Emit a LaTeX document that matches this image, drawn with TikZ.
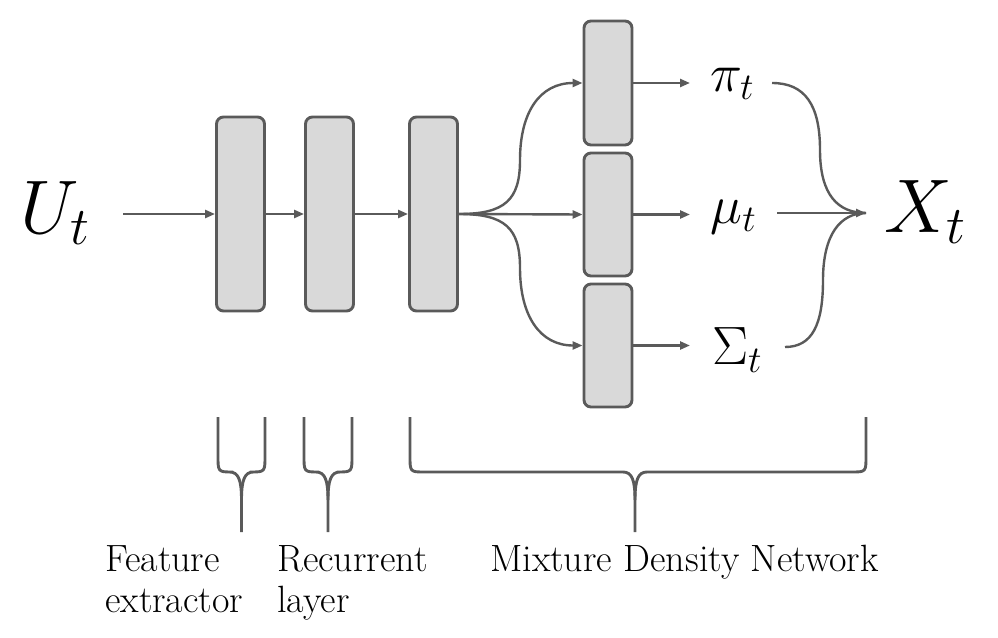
\RequirePackage{fix-cm}
\documentclass[tikz,border=0pt]{standalone}
\usetikzlibrary{arrows.meta}
\DeclareMathSizes{54}{54}{37.8}{27}
\DeclareMathSizes{76}{76}{53.2}{38}
\definecolor{edge}{HTML}{5A5A5A}
\definecolor{boxfill}{HTML}{D9D9D9}
\newcommand\mybrace[3]{%
  \draw[brace] (#1,417) -- (#1,456) .. controls (#1,472) .. ({#1+15},472) -- ({#3-12},472)
     .. controls ({#3-3},472) and (#3,480) .. (#3,500) -- (#3,532);
  \draw[brace] (#2,417) -- (#2,456) .. controls (#2,472) .. ({#2-15},472) -- ({#3+12},472)
     .. controls ({#3+3},472) and (#3,480) .. (#3,500);}
\begin{document}
\begin{tikzpicture}[x=1pt,y=-1pt,
  box/.style={draw=edge, fill=boxfill, line width=2.9pt, rounded corners=7pt, minimum width=48pt, inner sep=0pt},
  arr/.style={draw=edge, line width=2.4pt, -{Triangle[length=10pt,width=8pt]}},
  con/.style={draw=edge, line width=2.4pt},
  brace/.style={draw=edge, line width=2.9pt, line join=round},
  lab/.style={font=\fontsize{38}{41}\selectfont, align=left, inner sep=0pt},
  big/.style={font=\fontsize{76}{80}\selectfont, inner sep=0pt},
  mid/.style={font=\fontsize{54}{58}\selectfont, inner sep=0pt}]
\useasboundingbox (0,0) rectangle (998,637);

% boxes
\node[box, minimum height=194pt] (b1) at (240.5,214) {};
\node[box, minimum height=194pt] (b2) at (329.5,214) {};
\node[box, minimum height=194pt] (b3) at (433.5,214) {};
\node[box, minimum height=124pt] (m1) at (608,83) {};
\node[box, minimum height=123pt] (m2) at (608,214.5) {};
\node[box, minimum height=123pt] (m3) at (608,345.5) {};

% math labels
\node[big, anchor=base] (U) at (55,233) {$U_t$};
\node[big, anchor=base] (X) at (925,232) {$X_t$};
\node[mid, anchor=base] (pi) at (732,91) {$\pi_t$};
\node[mid, anchor=base] (mu) at (733.5,223) {$\mu_t$};
\node[mid, anchor=base] (sig) at (737,364) {$\Sigma_t$};

% connector end points
\coordinate (uin) at (123,214);
\coordinate (xin) at (866,213);
\coordinate (p1) at (690,83);
\coordinate (p2) at (690,214.5);
\coordinate (p3) at (690,345.5);
\coordinate (p1o) at (772,83);
\coordinate (p2o) at (777,213);
\coordinate (p3o) at (785,347);

% main chain
\draw[arr] (uin) -- (b1.west);
\draw[arr] (b1.east) -- (b2.west);
\draw[arr] (b2.east) -- (b3.west);

% fan out
\draw[arr] (b3.east) .. controls (505,214) and (520,200) .. (520,160)
   .. controls (520,112) and (540,83) .. (m1.west);
\draw[arr] (b3.east) -- (m2.west);
\draw[arr] (b3.east) .. controls (505,214) and (520,228) .. (520,268)
   .. controls (520,316) and (540,345.5) .. (m3.west);

% to labels
\draw[arr] (m1.east) -- (p1);
\draw[arr] (m2.east) -- (p2);
\draw[arr] (m3.east) -- (p3);

% fan in
\draw[con] (p1o) .. controls (805,83) and (820,105) .. (820,150)
   .. controls (820,195) and (838,213) .. (xin);
\draw[arr] (p2o) -- (xin);
\draw[con] (p3o) .. controls (812,347) and (823,325) .. (823,280)
   .. controls (823,235) and (840,213) .. (xin);

% braces
\mybrace{218}{265}{241.5}
\mybrace{304}{352}{328}
\mybrace{410}{866}{635}

% texts
\node[lab, anchor=base west] (fe) at (105,612) {Feature\\extractor};
\node[lab, anchor=base west] (rl) at (277,612) {Recurrent\\layer};
\node[lab, anchor=base west] (mdn) at (490,571) {Mixture Density Network};
\end{tikzpicture}
\end{document}
